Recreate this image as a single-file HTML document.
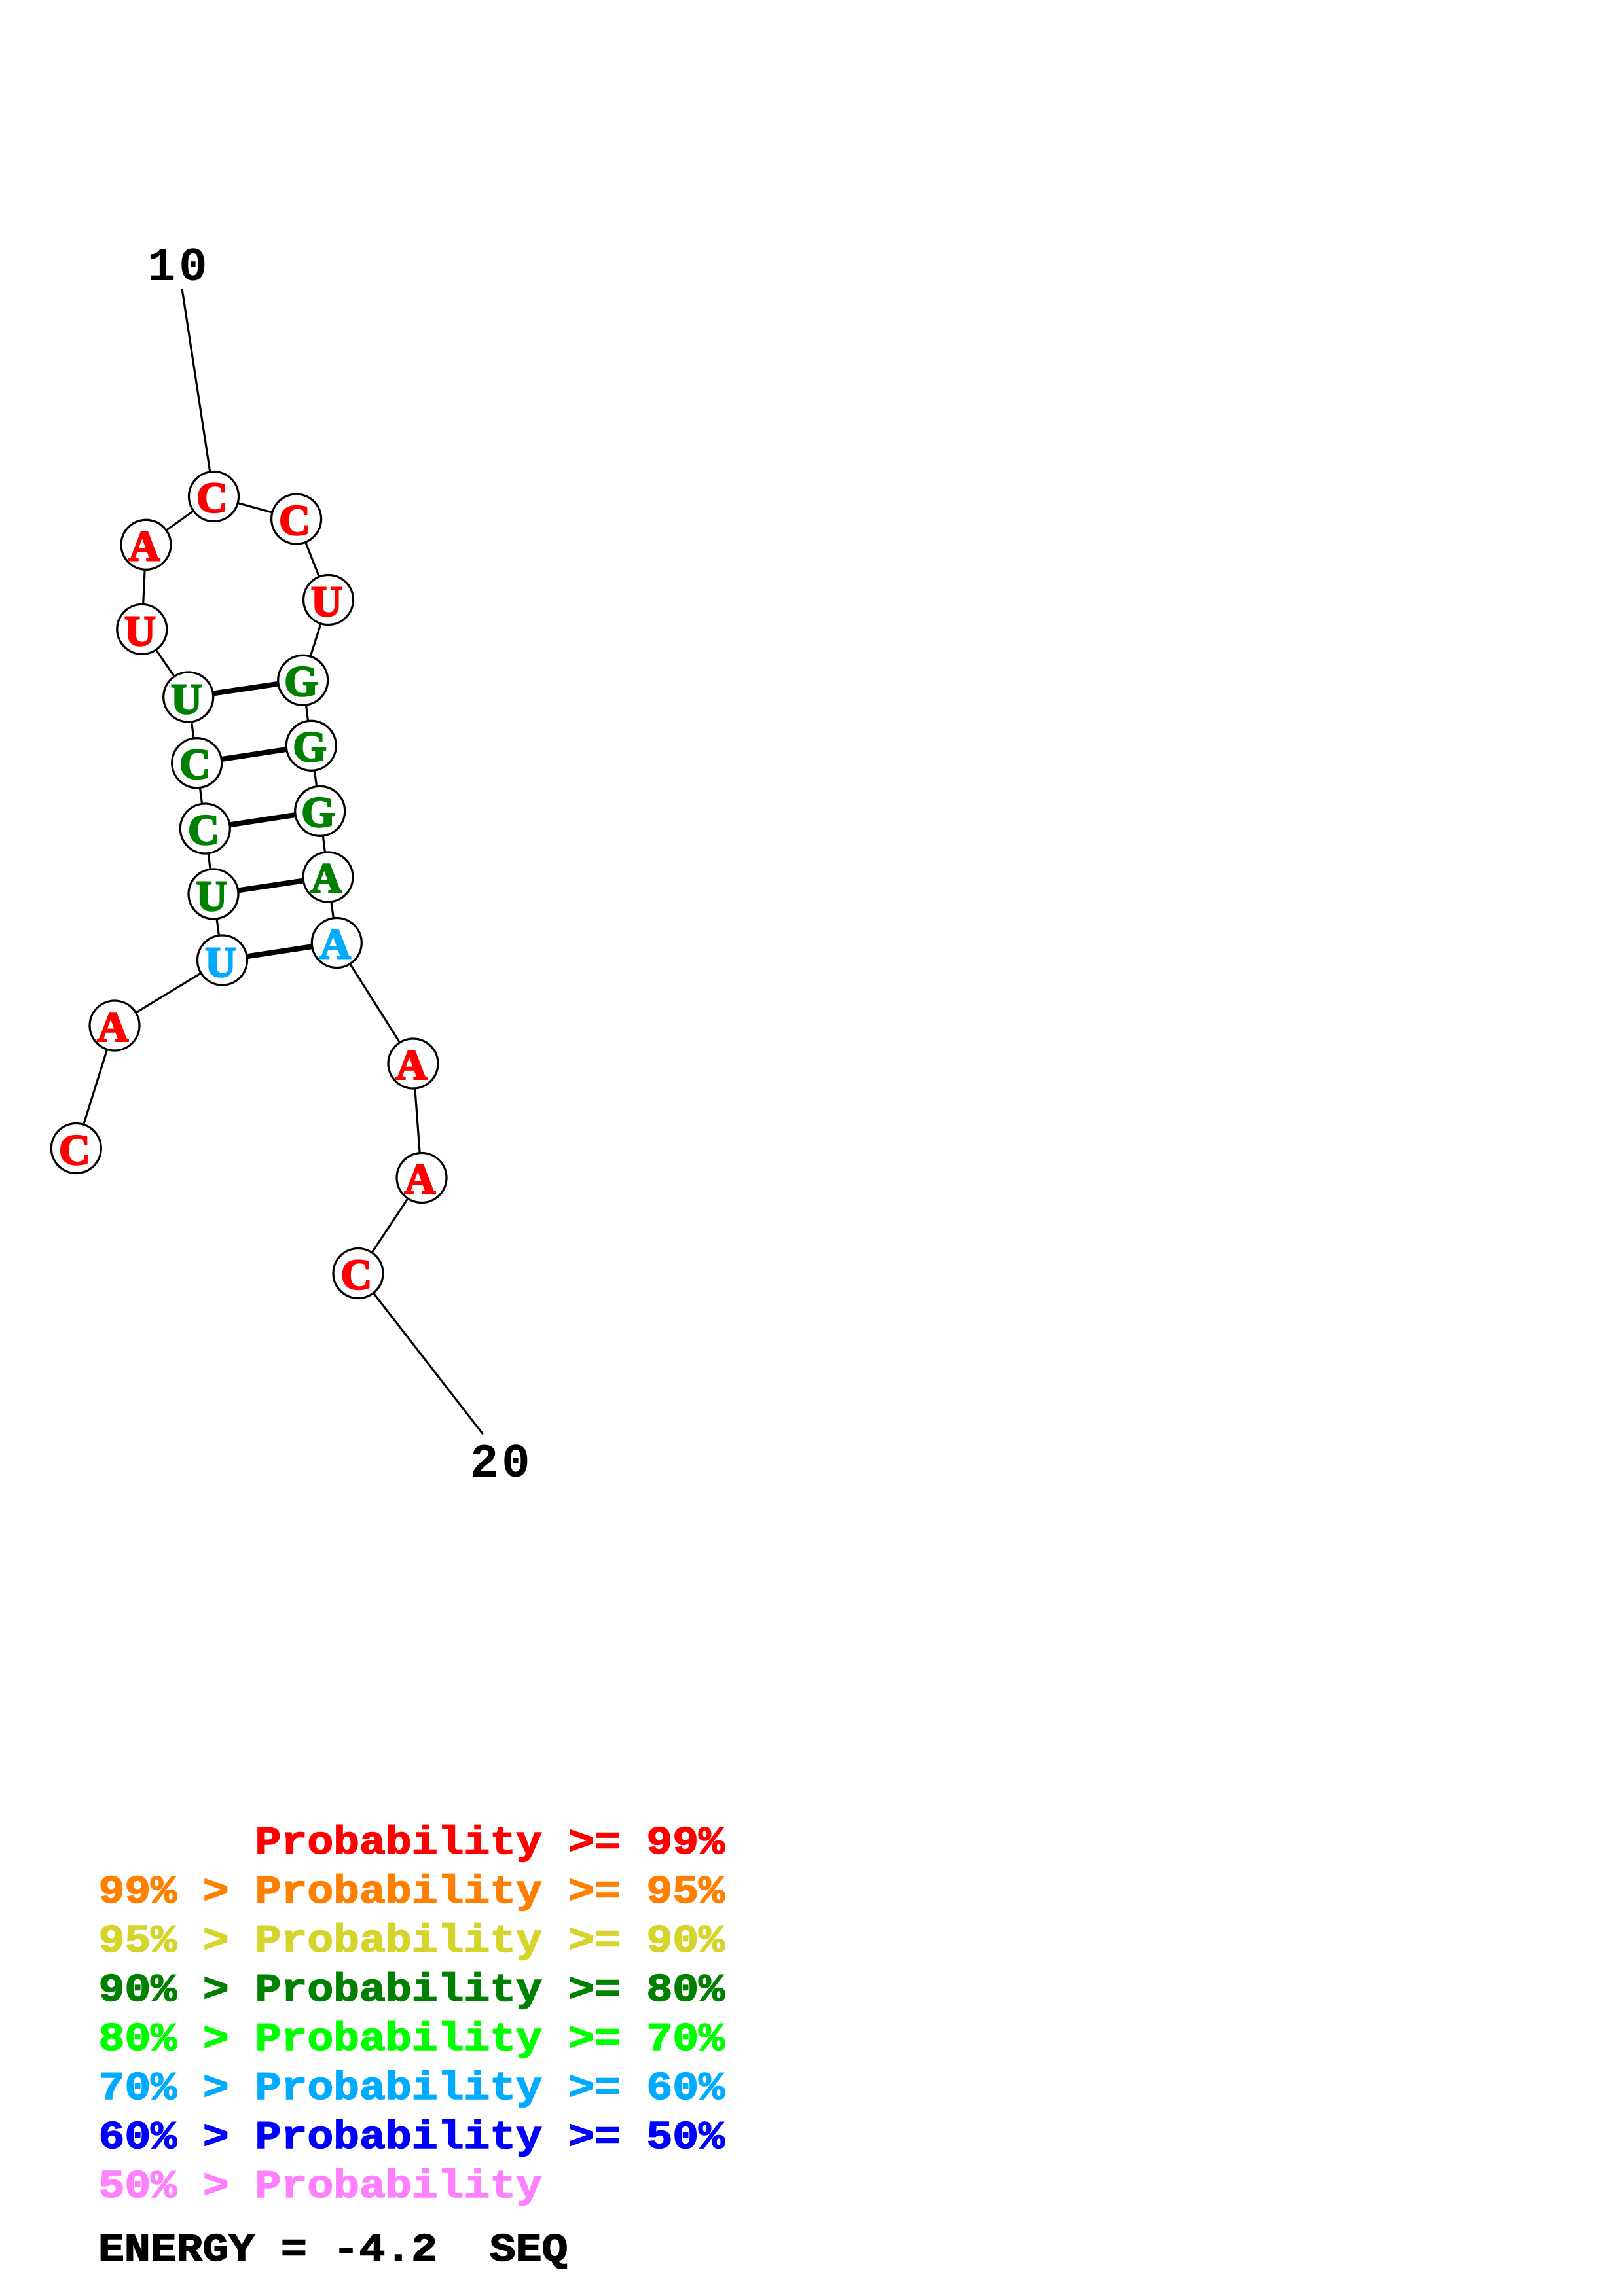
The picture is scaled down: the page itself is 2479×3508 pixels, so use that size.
<!DOCTYPE html>
<html><head><meta charset="utf-8"><style>
html,body{margin:0;padding:0;background:#fff}
svg{display:block}
text{font-weight:bold;white-space:pre}
.n{font-family:"Liberation Serif",serif;font-size:66px;text-anchor:middle}
.d{font-family:"Liberation Mono",monospace;font-size:72px;letter-spacing:5px}
.l{font-family:"Liberation Mono",monospace;font-size:60px;stroke-width:1.5px}
</style></head><body>
<svg width="2479" height="3508" viewBox="0 0 2479 3508" xmlns="http://www.w3.org/2000/svg">
<rect width="2479" height="3508" fill="#fff"/>
<polyline fill="none" stroke="#000" stroke-width="3.2" points="116.3,1754.5 175,1567 339.5,1467 326,1366 313.3,1266 300.7,1165.7 287.7,1065 216.8,961.4 223,832.3 326.5,758.5 452.6,793 501.5,916.5 462.7,1039.3 475.3,1139.3 488.7,1239.3 501,1340 514.3,1440.5 631,1625 644,1799.5 547,1945.5 737.5,2191"/>
<line x1="278" y1="441" x2="326.5" y2="758.5" stroke="#000" stroke-width="3.2"/>
<g stroke="#000" stroke-width="8">
<line x1="287.7" y1="1065" x2="462.7" y2="1039.3"/>
<line x1="300.7" y1="1165.7" x2="475.3" y2="1139.3"/>
<line x1="313.3" y1="1266" x2="488.7" y2="1239.3"/>
<line x1="326" y1="1366" x2="501" y2="1340"/>
<line x1="339.5" y1="1467" x2="514.3" y2="1440.5"/>
</g>
<g fill="#fff" stroke="#000" stroke-width="3.3">
<circle cx="116.3" cy="1754.5" r="38"/><circle cx="175" cy="1567" r="38"/><circle cx="339.5" cy="1467" r="38"/><circle cx="326" cy="1366" r="38"/><circle cx="313.3" cy="1266" r="38"/><circle cx="300.7" cy="1165.7" r="38"/><circle cx="287.7" cy="1065" r="38"/><circle cx="216.8" cy="961.4" r="38"/><circle cx="223" cy="832.3" r="38"/><circle cx="326.5" cy="758.5" r="38"/><circle cx="452.6" cy="793" r="38"/><circle cx="501.5" cy="916.5" r="38"/><circle cx="462.7" cy="1039.3" r="38"/><circle cx="475.3" cy="1139.3" r="38"/><circle cx="488.7" cy="1239.3" r="38"/><circle cx="501" cy="1340" r="38"/><circle cx="514.3" cy="1440.5" r="38"/><circle cx="631" cy="1625" r="38"/><circle cx="644" cy="1799.5" r="38"/><circle cx="547" cy="1945.5" r="38"/>
</g>
<g transform="translate(0,-1)">
<g fill="#f00" stroke="#f00" stroke-width="2.6">
<text class="n" x="114" y="1780">C</text><text class="n" x="172.3" y="1592">A</text>
<text class="n" x="214" y="987">U</text><text class="n" x="220.5" y="857.5">A</text><text class="n" x="324" y="783.5">C</text><text class="n" x="450" y="818">C</text><text class="n" x="499" y="942">U</text>
<text class="n" x="628.5" y="1650">A</text><text class="n" x="641.5" y="1824.5">A</text><text class="n" x="544.5" y="1970.5">C</text>
</g>
<g fill="#008000" stroke="#008000" stroke-width="2.6">
<text class="n" x="285" y="1091">U</text><text class="n" x="298" y="1190.5">C</text><text class="n" x="311" y="1291">C</text><text class="n" x="323.5" y="1392">U</text>
<text class="n" x="460" y="1064">G</text><text class="n" x="473" y="1164">G</text><text class="n" x="486" y="1264">G</text><text class="n" x="498.5" y="1365">A</text>
</g>
<g fill="#00aaff" stroke="#00aaff" stroke-width="2.6">
<text class="n" x="337" y="1493">U</text><text class="n" x="512" y="1465.5">A</text>
</g>
</g>
<text class="d" x="225" y="428" fill="#000">10</text>
<text class="d" x="718" y="2256" fill="#000">20</text>
<g>
<text class="l" transform="translate(150.5,2832) scale(1.107,1)" fill="#f00" stroke="#f00">      Probability &gt;= 99%</text>
<text class="l" transform="translate(150.5,2907) scale(1.107,1)" fill="#ff8000" stroke="#ff8000">99% &gt; Probability &gt;= 95%</text>
<text class="l" transform="translate(150.5,2982) scale(1.107,1)" fill="#d4d42a" stroke="#d4d42a">95% &gt; Probability &gt;= 90%</text>
<text class="l" transform="translate(150.5,3057) scale(1.107,1)" fill="#008000" stroke="#008000">90% &gt; Probability &gt;= 80%</text>
<text class="l" transform="translate(150.5,3132) scale(1.107,1)" fill="#00ff00" stroke="#00ff00">80% &gt; Probability &gt;= 70%</text>
<text class="l" transform="translate(150.5,3207) scale(1.107,1)" fill="#00aaff" stroke="#00aaff">70% &gt; Probability &gt;= 60%</text>
<text class="l" transform="translate(150.5,3282) scale(1.107,1)" fill="#0000ff" stroke="#0000ff">60% &gt; Probability &gt;= 50%</text>
<text class="l" transform="translate(150.5,3357) scale(1.107,1)" fill="#ff80ff" stroke="#ff80ff">50% &gt; Probability</text>
<text class="l" transform="translate(150,3454) scale(1.107,1)" fill="#000" stroke="#000">ENERGY = -4.2  SEQ</text>
</g>
</svg>
</body></html>
